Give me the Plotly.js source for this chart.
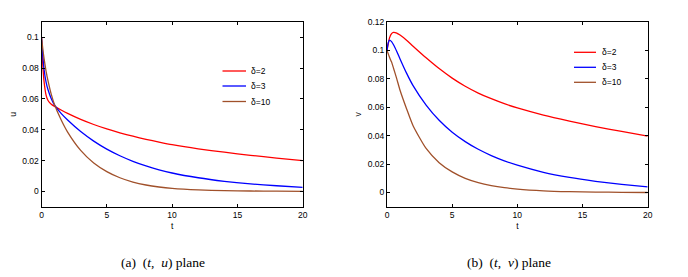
<!DOCTYPE html>
<html>
<head>
<meta charset="utf-8">
<script src="https://cdn.plot.ly/plotly-3.0.1.min.js"></script>
<style>
html,body{margin:0;padding:0;background:#fff;}
#chart{width:688px;height:277px;}
</style>
</head>
<body>
<div id="chart"></div>
<script>
// ---- data ----
const t = [0, 0.1, 0.2, 0.35, 0.5, 0.75, 1, 1.5, 2, 3, 4, 5, 6, 7, 8, 9, 10, 12, 14, 16, 18, 20];

const seriesNames = ["δ=2", "δ=3", "δ=10"];
const seriesColors = ["#ff0000", "#0000ff", "#a0502a"];

// (t, u) plane
const u_delta2  = [0.100, 0.082, 0.071, 0.0625, 0.0590, 0.0566, 0.0552, 0.0528, 0.0506, 0.0467, 0.0434, 0.0405, 0.0380, 0.0358, 0.0338, 0.0320, 0.0303, 0.0276, 0.0254, 0.0234, 0.0216, 0.0199];
const u_delta3  = [0.100, 0.088, 0.079, 0.0710, 0.0660, 0.0602, 0.0560, 0.0506, 0.0463, 0.0388, 0.0326, 0.0274, 0.0231, 0.0195, 0.0165, 0.0140, 0.0119, 0.0088, 0.0065, 0.0048, 0.0036, 0.0026];
const u_delta10 = [0.100, 0.0925, 0.0860, 0.0780, 0.0718, 0.0630, 0.0562, 0.0465, 0.0385, 0.0266, 0.0184, 0.0128, 0.0088, 0.0060, 0.0041, 0.0028, 0.0019, 0.0009, 0.0004, 0.0002, 0.0001, 0.0000];

// (t, v) plane
const v_delta2  = [0.100, 0.105, 0.109, 0.1118, 0.1127, 0.1122, 0.1108, 0.1072, 0.1030, 0.0948, 0.0872, 0.0805, 0.0748, 0.0700, 0.0660, 0.0625, 0.0595, 0.0545, 0.0503, 0.0464, 0.0430, 0.0397];
const v_delta3  = [0.100, 0.1055, 0.1073, 0.1062, 0.1040, 0.0993, 0.0940, 0.0840, 0.0752, 0.0615, 0.0508, 0.0424, 0.0358, 0.0304, 0.0260, 0.0223, 0.0192, 0.0142, 0.0106, 0.0079, 0.0057, 0.0039];
const v_delta10 = [0.100, 0.0975, 0.0950, 0.0918, 0.0875, 0.0800, 0.0720, 0.0590, 0.0470, 0.0310, 0.0210, 0.0145, 0.0100, 0.0070, 0.0049, 0.0034, 0.0024, 0.0012, 0.0006, 0.0003, 0.0001, 0.0000];

const xTicks = [0, 5, 10, 15, 20];
const uTicks = [0, 0.02, 0.04, 0.06, 0.08, 0.1];
const uTickText = ["0", "0.02", "0.04", "0.06", "0.08", "0.1"];
const vTicks = [0, 0.02, 0.04, 0.06, 0.08, 0.1, 0.12];
const vTickText = ["0", "0.02", "0.04", "0.06", "0.08", "0.1", "0.12"];

const captionA = "(a)&nbsp;&nbsp;(<i>t</i>,&nbsp;&nbsp;<i>u</i>) plane";
const captionB = "(b)&nbsp;&nbsp;(<i>t</i>,&nbsp;&nbsp;<i>v</i>) plane";

// ---- build ----
const W = 688, H = 277;
const px = x => x / W;
const py = y => 1 - y / H;

const uSeries = [u_delta2, u_delta3, u_delta10];
const vSeries = [v_delta2, v_delta3, v_delta10];

const traces = [];
uSeries.forEach((ys, i) => traces.push({
  x: t, y: ys, type: 'scatter', mode: 'lines', name: seriesNames[i],
  line: {color: seriesColors[i], width: 1.3, shape: 'spline', smoothing: 0.6},
  xaxis: 'x', yaxis: 'y', showlegend: false, hoverinfo: 'skip'
}));
vSeries.forEach((ys, i) => traces.push({
  x: t, y: ys, type: 'scatter', mode: 'lines', name: seriesNames[i],
  line: {color: seriesColors[i], width: 1.3, shape: 'spline', smoothing: 0.6},
  xaxis: 'x2', yaxis: 'y2', showlegend: false, hoverinfo: 'skip'
}));

const tickFont = {family: 'Liberation Sans, Arial, sans-serif', size: 8.5, color: '#000'};
const baseAxis = {
  showline: true, mirror: 'ticks', linecolor: '#000', linewidth: 1,
  ticks: 'inside', ticklen: 3, tickwidth: 1, tickcolor: '#000',
  showgrid: false, zeroline: false, tickfont: tickFont, fixedrange: true
};

const xDom1 = [px(41.5), px(302.7)];
const xDom2 = [px(387), px(647.7)];
const yDom = [py(206.7), py(22)];

const shapes = [];
const annotations = [];

// custom legends (no box, as in the reference)
const legendA = {x0: 222.5, x1: 246, xt: 248.5, ys: [71, 86, 101.5]};
const legendB = {x0: 574, x1: 596, xt: 599.5, ys: [52.3, 67.3, 82.3]};
[legendA, legendB].forEach(L => {
  seriesNames.forEach((nm, i) => {
    shapes.push({type: 'line', xref: 'paper', yref: 'paper',
      x0: px(L.x0), x1: px(L.x1), y0: py(L.ys[i]), y1: py(L.ys[i]),
      line: {color: seriesColors[i], width: 1.3}});
    annotations.push({xref: 'paper', yref: 'paper', x: px(L.xt), y: py(L.ys[i]),
      xanchor: 'left', yanchor: 'middle', showarrow: false, text: nm,
      font: {family: 'Liberation Sans, Arial, sans-serif', size: 8.5, color: '#000'}});
  });
});

const capFont = {family: 'Liberation Serif, Times New Roman, serif', size: 13.5, color: '#000'};
annotations.push({xref: 'paper', yref: 'paper', x: px(163), y: py(262), xanchor: 'center', yanchor: 'middle',
  showarrow: false, text: captionA, font: capFont});
annotations.push({xref: 'paper', yref: 'paper', x: px(509), y: py(262), xanchor: 'center', yanchor: 'middle',
  showarrow: false, text: captionB, font: capFont});

const layout = {
  width: W, height: H,
  margin: {l: 0, r: 0, t: 0, b: 0},
  paper_bgcolor: '#fff', plot_bgcolor: '#fff',
  showlegend: false,
  xaxis: Object.assign({}, baseAxis, {domain: xDom1, range: [0, 20], tickvals: xTicks, anchor: 'y',
    title: {text: 't', font: tickFont, standoff: 4}}),
  yaxis: Object.assign({}, baseAxis, {domain: yDom, range: [-0.01, 0.11], tickvals: uTicks, ticktext: uTickText, anchor: 'x',
    title: {text: 'u', font: tickFont, standoff: 4}}),
  xaxis2: Object.assign({}, baseAxis, {domain: xDom2, range: [0, 20], tickvals: xTicks, anchor: 'y2',
    title: {text: 't', font: tickFont, standoff: 4}}),
  yaxis2: Object.assign({}, baseAxis, {domain: yDom, range: [-0.01, 0.12], tickvals: vTicks, ticktext: vTickText, anchor: 'x2',
    title: {text: 'v', font: tickFont, standoff: 4}}),
  shapes: shapes,
  annotations: annotations
};

Plotly.newPlot('chart', traces, layout, {staticPlot: true, displayModeBar: false});
</script>
</body>
</html>
